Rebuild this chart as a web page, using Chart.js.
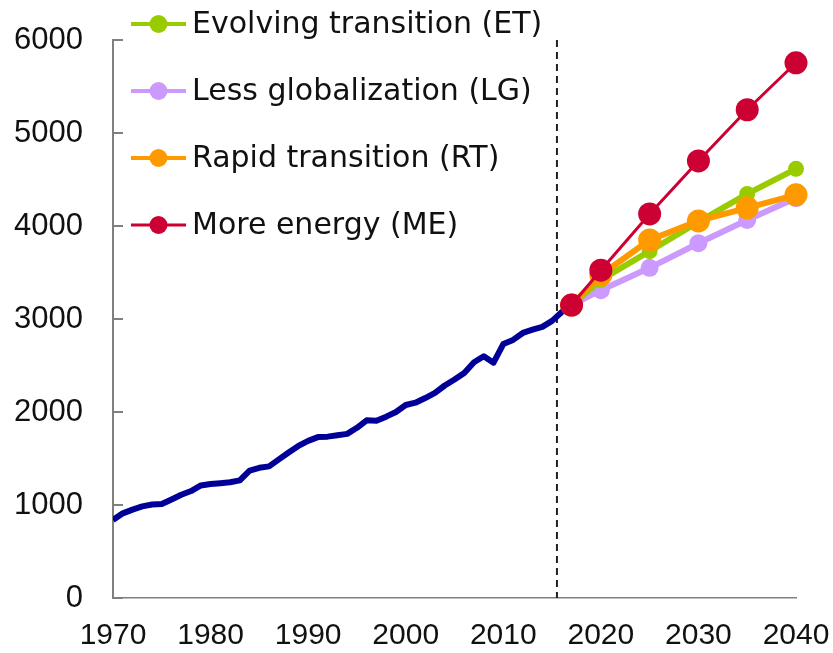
<!DOCTYPE html>
<html lang="en">
<head>
  <meta charset="UTF-8">
  <title>Scenarios 1970-2040</title>
  <script src="https://cdn.jsdelivr.net/npm/chart.js"></script>
  <style>
    body {
      margin: 0;
      background: #ffffff;
    }

    .chart-box {
      width: 833px;
      height: 653px;
      position: relative;
    }
  </style>
</head>
<body>

  <div class="chart-box">
    <canvas id="scenarioChart"></canvas>
  </div>

  <script>
    // historical series, one value per year
    const histYears = [
      1970, 1971, 1972, 1973, 1974, 1975, 1976, 1977, 1978, 1979,
      1980, 1981, 1982, 1983, 1984, 1985, 1986, 1987, 1988, 1989,
      1990, 1991, 1992, 1993, 1994, 1995, 1996, 1997, 1998, 1999,
      2000, 2001, 2002, 2003, 2004, 2005, 2006, 2007, 2008, 2009,
      2010, 2011, 2012, 2013, 2014, 2015, 2016, 2017
    ];
    const histValues = [
      840, 910, 950, 985, 1005, 1010, 1060, 1110, 1150, 1210,
      1225, 1235, 1245, 1265, 1370, 1400, 1415, 1490, 1565, 1635,
      1690, 1730, 1735, 1750, 1765, 1830, 1910, 1905, 1950, 2000,
      2075, 2100, 2150, 2205, 2285, 2350, 2420, 2535, 2600, 2530,
      2730, 2775, 2850, 2885, 2915, 2980, 3075, 3150
    ];

    // scenario projections
    const scenarioYears = [2017, 2020, 2025, 2030, 2035, 2040];
    const evolvingTransition = [3150, 3420, 3730, 4045, 4345, 4615];
    const lessGlobalization = [3150, 3310, 3550, 3815, 4065, 4300];
    const rapidTransition = [3150, 3475, 3850, 4055, 4195, 4335];
    const moreEnergy = [3150, 3525, 4130, 4700, 5250, 5755];

    const yTicks = [0, 1000, 2000, 3000, 4000, 5000, 6000];
    const xTicks = [1970, 1980, 1990, 2000, 2010, 2020, 2030, 2040];
    const projectionStart = 2015.5;

    const FONT = "'Liberation Sans', Arial, sans-serif";
    const LEGEND_FONT = "'DejaVu Sans', Verdana, sans-serif";

    const toPoints = (xs, ys) => xs.map((x, i) => ({ x: x, y: ys[i] }));

    const scenarios = [
      { label: 'Evolving transition (ET)', values: evolvingTransition, color: '#99cc00', width: 6, radius: 8, order: 2 },
      { label: 'Less globalization (LG)', values: lessGlobalization, color: '#cc99ff', width: 6, radius: 9, order: 3 },
      { label: 'Rapid transition (RT)', values: rapidTransition, color: '#ff9900', width: 6, radius: 11.5, order: 1 },
      { label: 'More energy (ME)', values: moreEnergy, color: '#cc0033', width: 3, radius: 11.5, order: 0 }
    ];

    const datasets = [{
      label: 'History',
      data: toPoints(histYears, histValues),
      borderColor: '#000099',
      borderWidth: 6,
      borderJoinStyle: 'round',
      pointRadius: 0,
      order: 4
    }];
    scenarios.forEach(s => {
      datasets.push({
        label: s.label,
        data: toPoints(scenarioYears, s.values),
        borderColor: s.color,
        backgroundColor: s.color,
        borderWidth: s.width,
        pointRadius: s.radius,
        pointBorderWidth: 0,
        pointBackgroundColor: s.color,
        clip: false,
        order: s.order
      });
    });

    // dashed line where projections start + inward y ticks
    const extras = {
      id: 'extras',
      beforeDatasetsDraw(chart) {
        const { ctx, scales } = chart;
        const x = scales.x.getPixelForValue(projectionStart);
        ctx.save();
        ctx.strokeStyle = '#222';
        ctx.lineWidth = 2;
        ctx.setLineDash([7, 5]);
        ctx.beginPath();
        ctx.moveTo(x, scales.y.getPixelForValue(6000));
        ctx.lineTo(x, scales.y.getPixelForValue(0));
        ctx.stroke();
        ctx.setLineDash([]);
        ctx.strokeStyle = '#808080';
        ctx.lineWidth = 2;
        yTicks.forEach(v => {
          const y = scales.y.getPixelForValue(v);
          ctx.beginPath();
          ctx.moveTo(chart.chartArea.left, y);
          ctx.lineTo(chart.chartArea.left + 10, y);
          ctx.stroke();
        });
        ctx.restore();
      },
      afterDraw(chart) {
        // legend in the top-left corner
        const ctx = chart.ctx;
        ctx.save();
        ctx.font = '30px ' + LEGEND_FONT;
        ctx.textBaseline = 'middle';
        scenarios.forEach((s, i) => {
          const y = 24 + i * 67;
          ctx.strokeStyle = s.color;
          ctx.lineWidth = s.width === 3 ? 3 : 4;
          ctx.beginPath();
          ctx.moveTo(131, y);
          ctx.lineTo(186, y);
          ctx.stroke();
          ctx.fillStyle = s.color;
          ctx.beginPath();
          ctx.arc(158.5, y, 9, 0, Math.PI * 2);
          ctx.fill();
          ctx.fillStyle = '#111';
          ctx.fillText(s.label, 192, y + 1);
        });
        ctx.restore();
      }
    };

    new Chart(document.getElementById('scenarioChart'), {
      type: 'line',
      data: { datasets: datasets },
      options: {
        responsive: true,
        maintainAspectRatio: false,
        animation: false,
        layout: { padding: { top: 40, right: 37, left: 0, bottom: 0 } },
        plugins: {
          legend: { display: false },
          tooltip: { enabled: false }
        },
        scales: {
          x: {
            type: 'linear',
            min: 1970,
            max: 2040,
            afterBuildTicks: axis => { axis.ticks = xTicks.map(v => ({ value: v })); },
            afterFit: axis => {
              axis.height = 55;
              axis.paddingLeft = 0;
              axis.paddingRight = 0;
            },
            ticks: {
              font: { family: FONT, size: 30 },
              color: '#111',
              padding: 20,
              maxRotation: 0,
              callback: v => String(v)
            },
            grid: { display: false, drawTicks: false },
            border: { color: '#808080', width: 1.5 }
          },
          y: {
            min: 0,
            max: 6000,
            afterBuildTicks: axis => { axis.ticks = yTicks.map(v => ({ value: v })); },
            afterFit: axis => {
              axis.width = 113;
              axis.paddingTop = 0;
              axis.paddingBottom = 0;
            },
            ticks: {
              font: { family: FONT, size: 31 },
              color: '#111',
              padding: 30,
              callback: v => String(v)
            },
            grid: { display: false, drawTicks: false },
            border: { color: '#808080', width: 2 }
          }
        }
      },
      plugins: [extras]
    });
  </script>

</body>
</html>
